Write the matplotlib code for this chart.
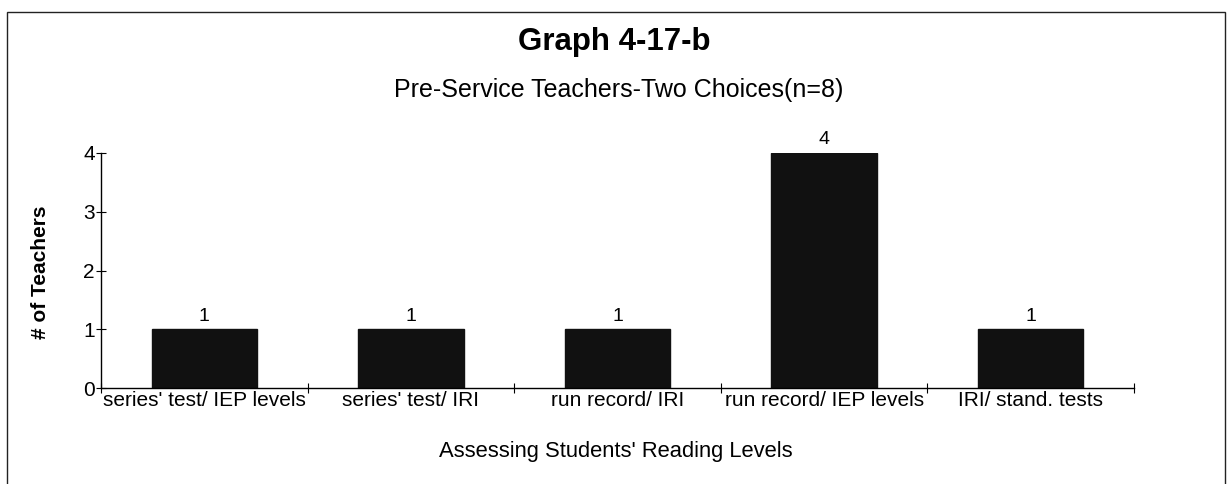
import matplotlib
matplotlib.use("Agg")
import matplotlib.pyplot as plt
from matplotlib.patches import Rectangle

categories = ["series' test/ IEP levels", "series' test/ IRI", "run record/ IRI",
              "run record/ IEP levels", "IRI/ stand. tests"]
values = [1, 1, 1, 4, 1]
yticks = [0, 1, 2, 3, 4]

plt.rcParams['font.family'] = ['Liberation Sans', 'DejaVu Sans']

W, H = 1229, 484
fig = plt.figure(figsize=(W / 100, H / 100), dpi=100)

# outer border
fig.add_artist(Rectangle((7 / W, -0.01), (1225 - 7) / W, 1 - 12 / H + 0.01,
                         transform=fig.transFigure, fill=False, lw=1.0, ec='#222222'))

ax = fig.add_axes([101 / W, 1 - 388 / H, (1134 - 101) / W, (388 - 153) / H])
pos = [i + 0.5 for i in range(len(categories))]
ax.bar(pos, values, width=0.51, color='#111111', edgecolor='#111111')
for x, v in zip(pos, values):
    ax.text(x, v + 0.08, str(v), ha='center', va='bottom', fontsize=14, clip_on=False)

ax.set_xlim(0, len(categories))
ax.set_ylim(0, 4)
ax.set_yticks(yticks)
ax.set_xticks(range(len(categories) + 1))
ax.set_xticklabels([])
ax.set_xticks(pos, minor=True)
ax.set_xticklabels(categories, minor=True, fontsize=15)
ax.tick_params(axis='x', which='minor', length=0, pad=2)
ax.tick_params(axis='x', which='major', direction='inout', length=7, width=0.8)
ax.tick_params(axis='y', direction='inout', length=7, width=0.8, labelsize=15, pad=1)
for s in ['top', 'right']:
    ax.spines[s].set_visible(False)
for s in ['left', 'bottom']:
    ax.spines[s].set_linewidth(1.0)

fig.text(614 / W, 1 - 42 / H, "Graph 4-17-b", ha='center', va='center',
         fontsize=22.5, fontweight='bold')
fig.text(619 / W, 1 - 90 / H, "Pre-Service Teachers-Two Choices(n=8)", ha='center',
         va='center', fontsize=18)
fig.text(616 / W, 1 - 452 / H, "Assessing Students' Reading Levels", ha='center',
         va='center', fontsize=15.8)
fig.text(40 / W, 1 - 272 / H, "# of Teachers", ha='center', va='center',
         rotation=90, fontsize=15, fontweight='bold')

fig.savefig("out.png", dpi=100)
